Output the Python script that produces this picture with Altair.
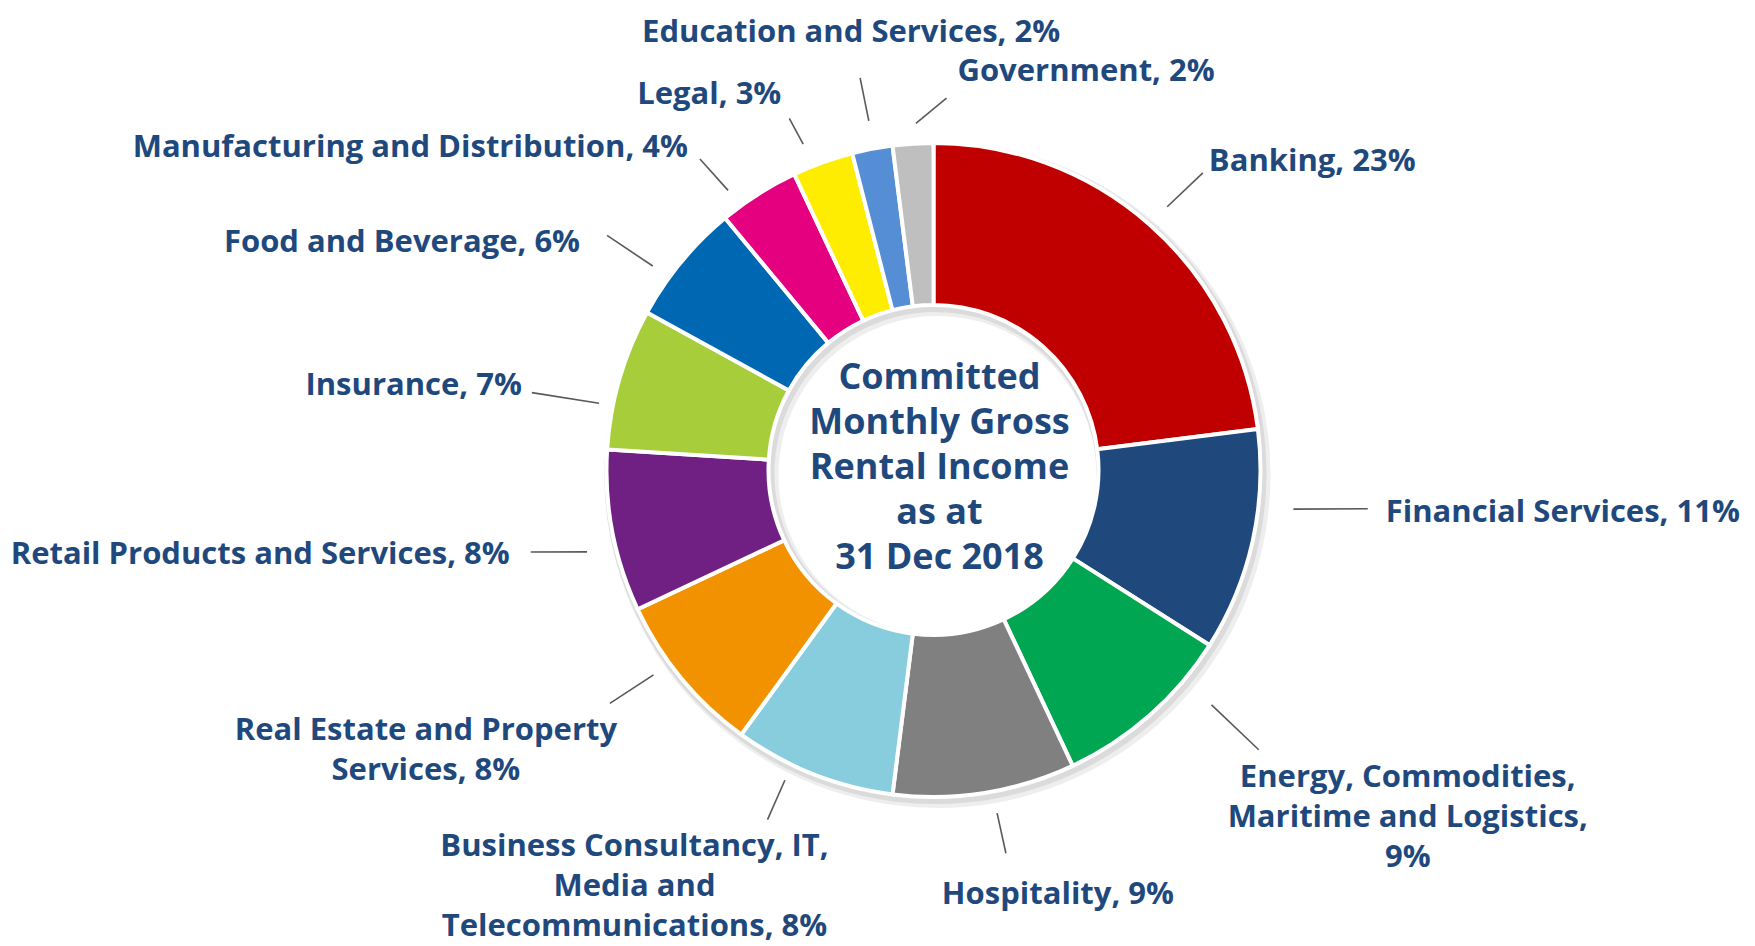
import altair as alt
import numpy as np
import pandas as pd

# ---------------- data ----------------
categories = [
    "Banking", "Financial Services", "Energy, Commodities, Maritime and Logistics",
    "Hospitality", "Business Consultancy, IT, Media and Telecommunications",
    "Real Estate and Property Services", "Retail Products and Services", "Insurance",
    "Food and Beverage", "Manufacturing and Distribution", "Legal",
    "Education and Services", "Government",
]
shares = [23, 11, 9, 9, 8, 8, 8, 7, 6, 4, 3, 2, 2]
label_names = [
    "Banking", "Financial Services", "Energy, Commodities,\nMaritime and Logistics,\n",
    "Hospitality", "Business Consultancy, IT,\nMedia and\nTelecommunications",
    "Real Estate and Property\nServices", "Retail Products and Services", "Insurance",
    "Food and Beverage", "Manufacturing and Distribution", "Legal",
    "Education and Services", "Government",
]
colors = ["#C00000", "#1F497D", "#00A651", "#808080", "#87CDDE", "#F39200", "#702082",
          "#A8CD3A", "#0068B2", "#E4007F", "#FFED00", "#558ED5", "#BFBFBF"]
center_lines = ["Committed", "Monthly Gross", "Rental Income", "as at", "31 Dec 2018"]

# ---------------- layout (styling / placement, not data) ----------------
W, H = 1739, 938
CX, CY = 925.5, 462.0          # donut centre inside the view (pixels)
R_OUT, R_IN = 327, 165
TEXT_COLOR = "#1F497D"
FONT = "Open Sans"
LABEL_SIZE = 31
LABEL_LH = 40

leader_start_off = [0.2, -6.4, -8.4, -1.5, 4.0, 3.4, -2.5, -4.9, -3.6, -3.9, -2.0, 0.3, 0.7]
leader_start_r = [352, 362, 364, 349, 344, 347, 356, 341, 347, 347, 351, 355, 347]
leader_end_off = [0.8, -7.5, -7.9, -1.7, 3.8, 3.8, -0.7, -5.3, -3.9, -4.5, -2.5, 0.2, 5.6]
leader_end_r = [401, 436, 429, 390, 387, 399, 411, 409, 402, 389, 380, 399, 372]
# offset of the label's first line from the outer end of its leader line
label_dx = [6, 18, 149, 52, -133, -184, -21, -10, -27, -12, -8, -9, 11]
label_dy = [-10.5, 4.5, 28, 41.5, 27, 28, 3.5, -6.5, 7.5, -11, -23.5, -45, -26.5]
label_align = ["left", "left", "center", "center", "center", "center", "right",
               "right", "right", "right", "right", "center", "left"]

# ---------------- derived tables ----------------
vals = np.array(shares, dtype=float)
cum = np.cumsum(vals)
mid = (cum - vals / 2) / vals.sum() * 360.0


def polar(ang_deg, r):
    a = np.deg2rad(ang_deg)
    return r * np.sin(a), r * np.cos(a)  # x right, y up


sx, sy = polar(mid + np.array(leader_start_off), np.array(leader_start_r, float))
ex, ey = polar(mid + np.array(leader_end_off), np.array(leader_end_r, float))

slices_df = pd.DataFrame({"category": categories, "share": shares, "order": range(len(shares))})
leaders_df = pd.DataFrame({"x": sx, "y": sy, "x2": ex, "y2": ey})

texts = []
for name, s in zip(label_names, shares):
    if name.endswith("\n"):
        texts.append(f"{name}{s}%")
    else:
        texts.append(f"{name}, {s}%")
labels_df = pd.DataFrame({
    "x": ex + np.array(label_dx),
    "y": ey - np.array(label_dy),
    "text": texts,
    "align": label_align,
})

xs = alt.Scale(domain=[-CX, W - CX], nice=False, zero=False)
ys = alt.Scale(domain=[-(H - CY), CY], nice=False, zero=False)

base_slices = alt.Chart(slices_df)


def shadow_ring(off_x, off_y, grow, opacity):
    return base_slices.mark_arc(outerRadius=R_OUT + grow, innerRadius=R_IN - grow,
                                fill="#bdbdbd", opacity=opacity).encode(
        theta=alt.Theta("share:Q", stack=True),
        order=alt.Order("order:Q"),
        x=alt.XDatum(off_x, scale=xs, axis=None),
        y=alt.YDatum(off_y, scale=ys, axis=None),
    )


shadow_outer = shadow_ring(4, -5, 6, 0.25)
shadow_inner = shadow_ring(2, -3, 4, 0.4)

arcs = base_slices.mark_arc(outerRadius=R_OUT, innerRadius=R_IN, stroke="white",
                            strokeWidth=4).encode(
    theta=alt.Theta("share:Q", stack=True),
    order=alt.Order("order:Q"),
    color=alt.Color("category:N", scale=alt.Scale(domain=categories, range=colors), legend=None),
    x=alt.XDatum(0, scale=xs, axis=None),
    y=alt.YDatum(0, scale=ys, axis=None),
)

leaders = alt.Chart(leaders_df).mark_rule(color="#595959", strokeWidth=1.6).encode(
    x=alt.X("x:Q", scale=xs, axis=None),
    y=alt.Y("y:Q", scale=ys, axis=None),
    x2="x2:Q",
    y2="y2:Q",
)

label_layers = []
for a in ["left", "center", "right"]:
    label_layers.append(
        alt.Chart(labels_df).transform_filter(alt.datum.align == a).mark_text(
            align=a, baseline="middle", font=FONT, fontWeight="bold", fontSize=LABEL_SIZE,
            color=TEXT_COLOR, lineBreak="\n", lineHeight=LABEL_LH,
        ).encode(
            x=alt.X("x:Q", scale=xs, axis=None),
            y=alt.Y("y:Q", scale=ys, axis=None),
            text="text:N",
        )
    )

center_df = pd.DataFrame({"text": ["\n".join(center_lines)]})
center_text = alt.Chart(center_df).mark_text(
    align="center", baseline="middle", font=FONT, fontWeight="bold", fontSize=36,
    color=TEXT_COLOR, lineBreak="\n", lineHeight=45, dx=6, dy=-92,
).encode(
    x=alt.XDatum(0, scale=xs, axis=None),
    y=alt.YDatum(0, scale=ys, axis=None),
    text="text:N",
)

chart = alt.layer(shadow_outer, shadow_inner, arcs, leaders, *label_layers, center_text).properties(
    width=W, height=H, autosize=alt.AutoSizeParams(type="none"), padding=0,
    background="white",
).configure_view(stroke=None)

chart.save("out.html", embed_options={"renderer": "svg", "actions": False})
